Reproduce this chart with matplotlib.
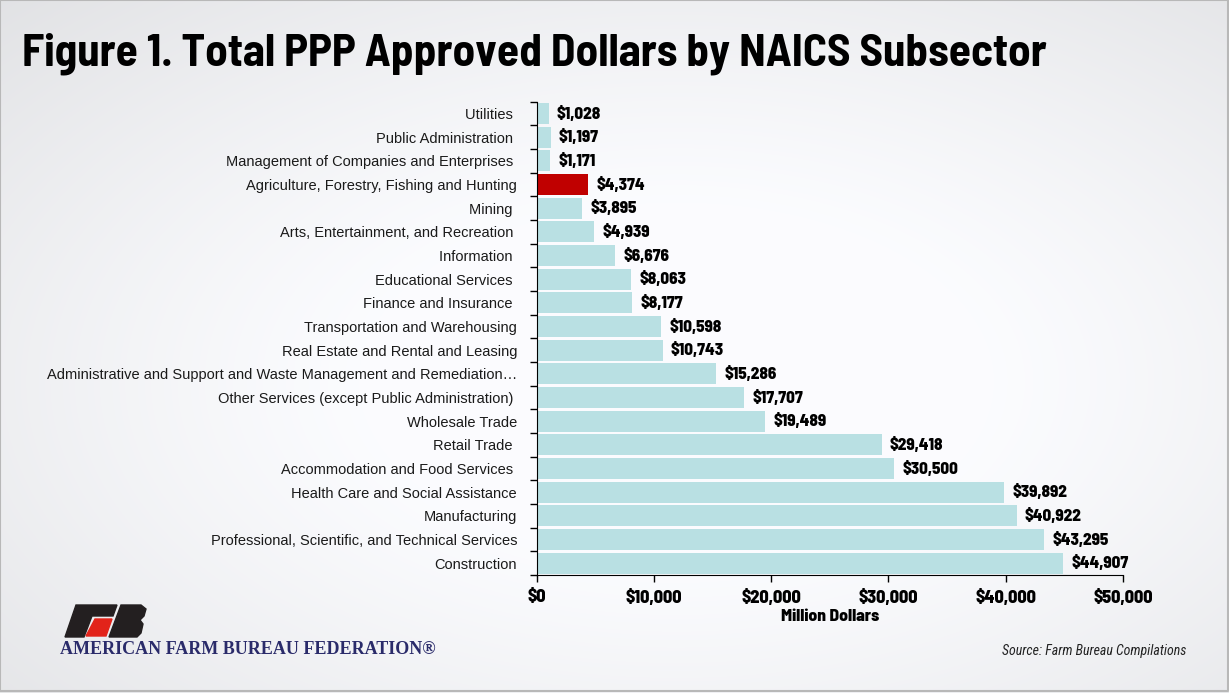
import matplotlib
matplotlib.use("Agg")
import matplotlib.pyplot as plt
import numpy as np
from matplotlib.patches import Polygon

categories = [
    "Utilities ", "Public Administration ", "Management of Companies and Enterprises ",
    "Agriculture, Forestry, Fishing and Hunting", "Mining ",
    "Arts, Entertainment, and Recreation ", "Information ", "Educational Services ",
    "Finance and Insurance ", "Transportation and Warehousing",
    "Real Estate and Rental and Leasing",
    "Administrative and Support and Waste Management and Remediation\u2026",
    "Other Services (except Public Administration) ", "Wholesale Trade",
    "Retail Trade ", "Accommodation and Food Services ",
    "Health Care and Social Assistance", "Manufacturing",
    "Professional, Scientific, and Technical Services", "Construction",
]
values = [1028, 1197, 1171, 4374, 3895, 4939, 6676, 8063, 8177, 10598,
          10743, 15286, 17707, 19489, 29418, 30500, 39892, 40922, 43295, 44907]
highlight = "Agriculture, Forestry, Fishing and Hunting"
x_ticks = [0, 10000, 20000, 30000, 40000, 50000]

TITLE_FONT = ["Barlow Semi Condensed", "Barlow Condensed", "DejaVu Sans"]
HEAVY_FONT = ["Barlow Semi Condensed", "Barlow Condensed", "DejaVu Sans"]
LABEL_FONT = ["Liberation Sans", "Arimo", "DejaVu Sans"]
SRC_FONT = ["Roboto Condensed", "Barlow Condensed", "DejaVu Sans"]

W, H = 1229, 693
fig = plt.figure(figsize=(W / 100, H / 100), dpi=100)

# background gradient
bg = fig.add_axes([0, 0, 1, 1], zorder=-10)
yy, xx = np.mgrid[0:H, 0:W]
r = np.sqrt(((xx - W * 0.55) / W) ** 2 + ((yy - H * 0.55) / H) ** 2)
shade = np.clip(1.0 - 0.22 * np.clip(r - 0.25, 0, None) ** 1.2, 0, 1)
img = np.dstack([0.985 * shade, 0.985 * shade + 0.003, 0.99 * shade + 0.008])
img = np.clip(img, 0, 1)
bg.imshow(img, extent=[0, W, H, 0], aspect="auto")
bg.set_xlim(0, W)
bg.set_ylim(H, 0)
bg.axis("off")
bg.plot([0, W - 1, W - 1, 0, 0], [0, 0, H - 2, H - 2, 0], color="#b8b8b8", lw=1.5)

# logo (decorative)
f_poly = [(76, 605), (117, 605), (113, 616), (92, 616), (84, 637), (65, 637)]
red_poly = [(95, 619), (112, 619), (106, 636), (86, 636)]
b_poly = [(121, 605), (141, 605), (146, 609), (144, 616), (140, 620), (143, 624),
          (141, 633), (137, 637), (109, 637)]
bg.add_patch(Polygon(f_poly, closed=True, color="#231f20"))
bg.add_patch(Polygon(red_poly, closed=True, color="#e2231a"))
bg.add_patch(Polygon(b_poly, closed=True, color="#231f20"))
bg.text(60, 649, "AMERICAN FARM BUREAU FEDERATION\u00ae", fontsize=13,
        family=["Liberation Serif", "DejaVu Serif"], weight="bold", color="#2a2b6a",
        va="center", ha="left")

# title
fig.text(22 / W, 1 - 54 / H, "Figure 1. Total PPP Approved Dollars by NAICS Subsector",
         fontsize=32.5, family=TITLE_FONT, weight=700,
         color="black", va="center", ha="left")

# main axes
left, right, top, bottom = 536.5, 1123, 101.7, 575
ax = fig.add_axes([left / W, 1 - bottom / H, (right - left) / W, (bottom - top) / H])
ax.patch.set_alpha(0)

y = np.arange(len(categories))
colors = ["#c00000" if c == highlight else "#b9e0e3" for c in categories]
ax.barh(y, values, height=0.89, color=colors, zorder=2)
ax.set_ylim(len(categories) - 0.5, -0.5)
ax.set_xlim(0, 50000)

for yi, v in zip(y, values):
    ax.annotate(f"${v:,}", xy=(v, yi), xytext=(6, 0), textcoords="offset points",
                va="center", ha="left", fontsize=12.2,
                family=HEAVY_FONT, weight=800, color="black")

ax.set_yticks(y)
ax.set_yticklabels(categories, fontsize=10.5, family=LABEL_FONT, color="#1a1a1a")
ax.tick_params(axis="y", which="major", length=0, pad=14)
ax.set_yticks(np.arange(-0.5, len(categories), 1), minor=True)
ax.tick_params(axis="y", which="minor", length=5, width=1, color="black", direction="out")

ax.set_xticks(x_ticks)
ax.set_xticklabels([f"${t:,}" for t in x_ticks], fontsize=13,
                   family=HEAVY_FONT, weight=800)
ax.tick_params(axis="x", length=5, width=1, color="black", direction="out", pad=5)
ax.set_xlabel("Million Dollars", fontsize=12.5, family=HEAVY_FONT, weight=800, labelpad=2)

for s in ["top", "right"]:
    ax.spines[s].set_visible(False)
ax.spines["left"].set_color("black")
ax.spines["bottom"].set_color("black")

fig.text(1186 / W, 1 - 651 / H, "Source: Farm Bureau Compilations", fontsize=10,
         family=SRC_FONT, style="italic",
         color="#222222", ha="right", va="center")

fig.savefig("out.png", dpi=100)
